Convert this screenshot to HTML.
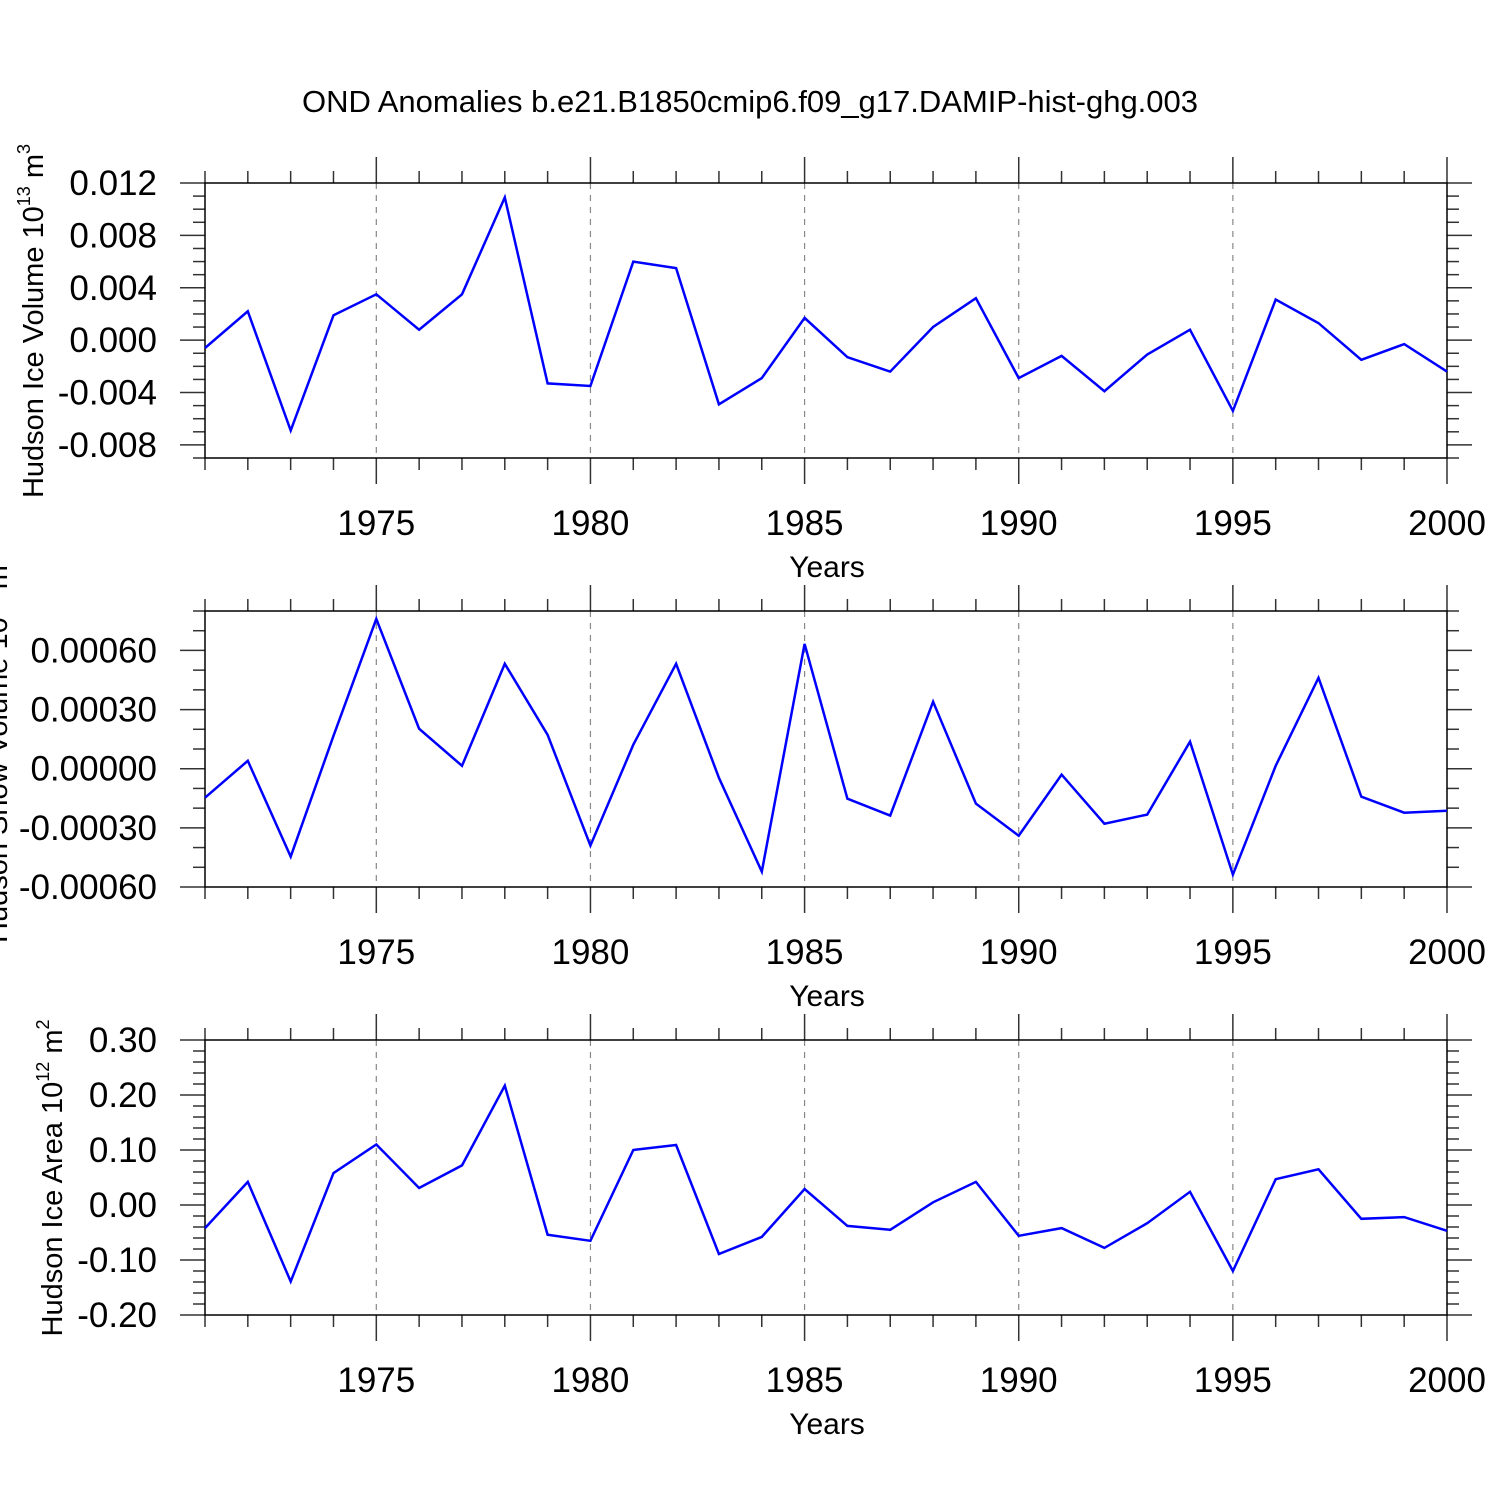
<!DOCTYPE html>
<html><head><meta charset="utf-8"><style>
body{margin:0;background:#fff}
svg{display:block;font-family:"Liberation Sans",sans-serif}
</style></head><body>
<svg id="c" width="1500" height="1500" viewBox="0 0 1500 1500">
<text x="750" y="112" font-size="31" text-anchor="middle">OND Anomalies b.e21.B1850cmip6.f09_g17.DAMIP-hist-ghg.003</text>
</svg>
<script>
const years=[1971,1972,1973,1974,1975,1976,1977,1978,1979,1980,1981,1982,1983,1984,1985,1986,1987,1988,1989,1990,1991,1992,1993,1994,1995,1996,1997,1998,1999,2000];
const iceVolume=[-0.0006,0.0022,-0.0069,0.0019,0.0035,0.0008,0.0035,0.0109,-0.0033,-0.0035,0.0060,0.0055,-0.0049,-0.0029,0.0017,-0.0013,-0.0024,0.0010,0.0032,-0.0029,-0.0012,-0.0039,-0.0011,0.0008,-0.0054,0.0031,0.0013,-0.0015,-0.0003,-0.0024];
const snowVolume=[-0.000147,0.00004,-0.000446,0.000167,0.00076,0.000203,0.000015,0.000532,0.000172,-0.00039,0.000122,0.000532,-0.000046,-0.000522,0.000633,-0.000152,-0.000238,0.00034,-0.000177,-0.00034,-0.00003,-0.000279,-0.000233,0.000137,-0.000537,0.000015,0.000461,-0.000142,-0.000223,-0.000213];
const iceArea=[-0.042,0.042,-0.139,0.058,0.110,0.031,0.072,0.217,-0.054,-0.065,0.100,0.109,-0.089,-0.058,0.029,-0.038,-0.045,0.005,0.042,-0.056,-0.042,-0.078,-0.033,0.024,-0.120,0.047,0.065,-0.025,-0.022,-0.047];
const xTickLabels=[1975,1980,1985,1990,1995,2000];
const ticks1=["0.012","0.008","0.004","0.000","-0.004","-0.008"];
const ticks2=["0.00060","0.00030","0.00000","-0.00030","-0.00060"];
const ticks3=["0.30","0.20","0.10","0.00","-0.10","-0.20"];

const svg=document.getElementById('c');
const NS="http://www.w3.org/2000/svg";
function mk(t,a,parent){const e=document.createElementNS(NS,t);for(const k in a)e.setAttribute(k,a[k]);(parent||svg).appendChild(e);return e;}
const X0=205,X1=1447;
const xs=y=>X0+(y-1971)*(X1-X0)/(2000-1971);

function panel(name,top,bot,ymin,ymax,minorStep,tickLabels,data,title,titleX,titleCY,sup,unitSup){
  const g=mk('g',{});
  
  
  const ys=v=>bot-(v-ymin)*(bot-top)/(ymax-ymin);
  const tk={stroke:'#333','stroke-width':1.5};
  xTickLabels.forEach(y=>{if(y<2000){const l=mk('line',{x1:xs(y),x2:xs(y),y1:top,y2:bot,stroke:'#888','stroke-width':1.2,'stroke-dasharray':'6,6'},g);
    
    }});
  years.forEach(y=>{const major=(y%5===0);const L=major?26:12;
    mk('line',Object.assign({x1:xs(y),x2:xs(y),y1:top-L,y2:top},tk),g);
    mk('line',Object.assign({x1:xs(y),x2:xs(y),y1:bot,y2:bot+L},tk),g);});
  const n=Math.round((ymax-ymin)/minorStep);
  for(let i=0;i<=n;i++){const v=ymin+i*minorStep;const yy=ys(v);
    const isMaj=tickLabels.some(t=>Math.abs(parseFloat(t)-v)<minorStep*0.1);
    const L=isMaj?25:12;
    mk('line',Object.assign({x1:X0-L,x2:X0,y1:yy,y2:yy},tk),g);
    mk('line',Object.assign({x1:X1,x2:X1+L,y1:yy,y2:yy},tk),g);}
  mk('rect',{x:X0,y:top,width:X1-X0,height:bot-top,fill:'none',stroke:'#000','stroke-width':1.5},g);
  tickLabels.forEach(t=>{const e=mk('text',{x:157,y:ys(parseFloat(t))+12,'font-size':35,'text-anchor':'end'},g);e.textContent=t;
    
    });
  xTickLabels.forEach(y=>{const e=mk('text',{x:xs(y),y:bot+77,'font-size':35,'text-anchor':'middle'},g);e.textContent=y;
    
    });
  const xt=mk('text',{x:827,y:bot+119,'font-size':30,'text-anchor':'middle'},g);xt.textContent='Years';
  
  
  const yt=mk('text',{x:0,y:0,'font-size':29,'text-anchor':'middle',transform:`translate(${titleX},${titleCY}) rotate(-90)`},g);
  yt.innerHTML=title+' 10<tspan dy="-13" font-size="18">'+sup+'</tspan><tspan dy="13"> m</tspan><tspan dy="-13" font-size="18">'+unitSup+'</tspan>';
  
  
  const pts=years.map((y,i)=>xs(y).toFixed(1)+','+ys(data[i]).toFixed(1)).join(' ');
  const pl=mk('polyline',{points:pts,fill:'none',stroke:'#0000ff','stroke-width':2.5,'stroke-linejoin':'miter'},g);
  
  
}
panel('ice-volume-panel',183,458,-0.009,0.012,0.001,ticks1,iceVolume,'Hudson Ice Volume',43,321,'13','3');
panel('snow-volume-panel',611,887,-0.0006,0.0008,0.0001,ticks2,snowVolume,'Hudson Snow Volume',7,749,'13','3');
panel('ice-area-panel',1040,1315,-0.2,0.3,0.02,ticks3,iceArea,'Hudson Ice Area',62,1178,'12','2');
</script>
</body></html>
